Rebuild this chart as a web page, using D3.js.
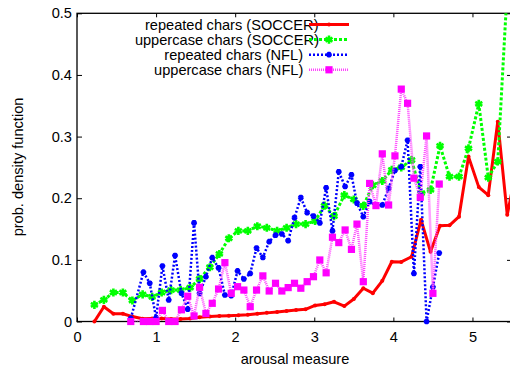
<!DOCTYPE html>
<html>
<head>
<meta charset="utf-8">
<script src="https://cdn.jsdelivr.net/npm/d3@7"></script>
<style>
  body { margin: 0; background: #fff; }
  svg text { font-family: "Liberation Sans", Arial, sans-serif; font-size: 14.6px; fill: #000; }
</style>
</head>
<body>
<script>
// SOCCER bins
const soccerX = [0.22, 0.34, 0.46, 0.58, 0.70, 0.83, 0.95, 1.07, 1.19, 1.31, 1.43, 1.55, 1.68, 1.80, 1.92,
  2.04, 2.16, 2.28, 2.40, 2.53, 2.65, 2.77, 2.89, 3.01, 3.13, 3.25, 3.38, 3.50, 3.62, 3.74, 3.86, 3.98,
  4.10, 4.23, 4.35, 4.47, 4.59, 4.71, 4.83, 4.95, 5.08, 5.20, 5.32, 5.44, 5.56];
const soccerRepeated = [0, 0.024, 0.0125, 0.0125, 0.008, 0.0045, 0.005, 0.005, 0.004, 0.004, 0.005, 0.007,
  0.008, 0.009, 0.0095, 0.010, 0.011, 0.0125, 0.014, 0.0155, 0.017, 0.0187, 0.0198, 0.026, 0.028, 0.032,
  0.025, 0.0365, 0.054, 0.046, 0.066, 0.097, 0.0966, 0.105, 0.165, 0.113, 0.1555, 0.156, 0.170, 0.2675,
  0.218, 0.205, 0.324, 0.173, 0.25];
const soccerUpper = [0.027, 0.035, 0.047, 0.047, 0.034, 0.044, 0.040, 0.047, 0.051, 0.051, 0.055, 0.069,
  0.088, 0.1096, 0.135, 0.147, 0.147, 0.1545, 0.152, 0.147, 0.152, 0.158, 0.158, 0.163, 0.188, 0.171,
  0.205, 0.198, 0.1875, 0.221, 0.228, 0.246, 0.250, 0.262, 0.208, 0.2135, 0.285, 0.235, 0.235, 0.281,
  0.353, 0.2335, 0.2595, 0.54];

// NFL bins
const nflX = [0.68, 0.84, 0.92, 1.00, 1.08, 1.16, 1.24, 1.32, 1.40, 1.48, 1.55, 1.63, 1.71, 1.79, 1.87,
  1.95, 2.03, 2.11, 2.19, 2.27, 2.35, 2.43, 2.51, 2.59, 2.67, 2.75, 2.83, 2.91, 2.99, 3.07, 3.15, 3.23,
  3.31, 3.39, 3.47, 3.54, 3.62, 3.70, 3.78, 3.86, 3.94, 4.02, 4.10, 4.18, 4.26, 4.34, 4.42, 4.50, 4.58];
const nflRepeated = [0.005, 0.080, 0.062, 0.006, 0.090, 0.035, 0.107, 0.046, 0.020, 0.160, 0.0457, 0.0727,
  0.1035, 0.087, 0.043, 0.042, 0.082, 0.069, 0.078, 0.119, 0.104, 0.1295, 0.140, 0.142, 0.131, 0.1685,
  0.201, 0.1766, 0.171, 0.160, 0.217, 0.147, 0.243, 0.219, 0.238, 0.192, 0.170, 0.1945, 0.188, 0.189,
  0.216, 0.245, 0.251, 0.294, 0.078, 0.251, 0, 0.056, 0.111];
const nflUpper = [0, 0, 0, 0, 0.018, 0, 0, 0.019, 0.041, 0.009, 0.0555, 0.013, 0.0295, 0.0527, 0.0955,
  0.0457, 0.0565, 0.051, 0.024, 0.051, 0.074, 0.0495, 0.062, 0.0495, 0.055, 0.062, 0.054, 0.0646, 0.0727,
  0.0998, 0.079, 0.1367, 0.128, 0.1485, 0.117, 0.158, 0.0646, 0.224, 0.188, 0.272, 0.189, 0.2687, 0.377,
  0.354, 0.2325, 0.2016, 0.301, 0.0457, 0.223];

const legendLabels = ["repeated chars (SOCCER)", "uppercase chars (SOCCER)", "repeated chars (NFL)", "uppercase chars (NFL)"];
const xTicks = [0, 1, 2, 3, 4, 5];
const yTicks = [0, 0.1, 0.2, 0.3, 0.4, 0.5];
const yTickLabels = ["0", "0.1", "0.2", "0.3", "0.4", "0.5"];

let width = 510;
let height = 367;
let plotLeft = 77, plotRight = 512, plotTop = 13.3, plotBottom = 321.5;

let svg = d3.select("body").append("svg").attr("width", width).attr("height", height);

let x = d3.scaleLinear().domain([0, 5.5]).range([plotLeft, plotRight]);
let y = d3.scaleLinear().domain([0, 0.5]).range([plotBottom, plotTop]);

let asterisk = d3.symbolAsterisk || d3.symbolCross;

let series = [
  { label: legendLabels[0], xs: soccerX, ys: soccerRepeated, color: "#ff0000", dash: null, lw: 3, marker: "dot", textEnd: 318.5 },
  { label: legendLabels[1], xs: soccerX, ys: soccerUpper, color: "#00ff00", dash: "3,2", lw: 3, marker: "star", textEnd: 319 },
  { label: legendLabels[2], xs: nflX, ys: nflRepeated, color: "#0000ff", dash: "2,2", lw: 2.5, marker: "blob", textEnd: 303 },
  { label: legendLabels[3], xs: nflX, ys: nflUpper, color: "#ff44ff", dash: "1,1", lw: 2.5, marker: "square", textEnd: 303.3 },
];

svg.append("defs").append("clipPath").attr("id", "plot-clip")
  .append("rect").attr("x", plotLeft).attr("y", plotTop).attr("width", plotRight - plotLeft).attr("height", plotBottom - plotTop);

// axes with inward ticks
let xAxis = d3.axisBottom(x).tickValues(xTicks).tickFormat(d3.format("d")).tickSizeInner(-4).tickSizeOuter(0).tickPadding(10);
svg.append("g").attr("transform", "translate(0," + plotBottom + ")").call(xAxis)
  .call((g) => g.select(".domain").remove())
  .call((g) => g.selectAll("text").attr("font-size", null).attr("font-family", null));

let xTop = d3.axisTop(x).tickValues(xTicks).tickFormat("").tickSizeInner(-4).tickSizeOuter(0);
svg.append("g").attr("transform", "translate(0," + plotTop + ")").call(xTop).call((g) => g.select(".domain").remove());

let yAxis = d3.axisLeft(y).tickValues(yTicks).tickFormat((d, i) => yTickLabels[i]).tickSizeInner(-5).tickSizeOuter(0).tickPadding(5);
svg.append("g").attr("transform", "translate(" + plotLeft + ",0)").call(yAxis)
  .call((g) => g.select(".domain").remove())
  .call((g) => g.selectAll("text").attr("font-size", null).attr("font-family", null));

let yRight = d3.axisRight(y).tickValues(yTicks).tickFormat("").tickSizeInner(-5).tickSizeOuter(0);
svg.append("g").attr("transform", "translate(" + plotRight + ",0)").call(yRight).call((g) => g.select(".domain").remove());

svg.selectAll(".tick line").attr("stroke", "#000").attr("stroke-width", 1);

// border
svg.append("rect").attr("x", plotLeft).attr("y", plotTop).attr("width", plotRight - plotLeft).attr("height", plotBottom - plotTop)
  .attr("fill", "none").attr("stroke", "#000").attr("stroke-width", 1.3);

svg.append("text").attr("x", 295).attr("y", 364).attr("text-anchor", "middle").text("arousal measure");
svg.append("text").attr("transform", "translate(23,167) rotate(-90)").attr("text-anchor", "middle").text("prob. density function");

function drawMarker(g, s, px, py) {
  if (s.marker === "dot") {
    g.append("circle").attr("cx", px).attr("cy", py).attr("r", 2).attr("fill", s.color);
  } else if (s.marker === "star") {
    g.append("path").attr("d", d3.symbol(asterisk, 46)()).attr("transform", "translate(" + px + "," + py + ")")
      .attr("fill", "none").attr("stroke", s.color).attr("stroke-width", 2.6);
  } else if (s.marker === "blob") {
    g.append("path").attr("d", d3.symbol(asterisk, 22)()).attr("transform", "translate(" + px + "," + py + ")")
      .attr("fill", "none").attr("stroke", s.color).attr("stroke-width", 2.6);
  } else {
    g.append("rect").attr("x", px - 3.6).attr("y", py - 3.6).attr("width", 7.2).attr("height", 7.2).attr("fill", "#ff00ff");
  }
}

let line = d3.line();

series.forEach((s) => {
  let pts = s.ys.map((v, i) => [x(s.xs[i]), y(v)]);
  svg.append("path").attr("d", line(pts)).attr("clip-path", "url(#plot-clip)")
    .attr("fill", "none").attr("stroke", s.color).attr("stroke-width", s.lw)
    .attr("stroke-dasharray", s.dash).attr("stroke-linejoin", "round");
  let mg = svg.append("g");
  s.ys.forEach((v, i) => {
    if (s.xs[i] <= 5.5 && v <= 0.5) drawMarker(mg, s, x(s.xs[i]), y(v));
  });
});

// legend
let legend = svg.append("g");
series.forEach((s, i) => {
  let ly = 24.5 + i * 15.1;
  legend.append("text").attr("x", s.textEnd).attr("y", ly).attr("dy", "0.35em").attr("text-anchor", "end").text(s.label);
  legend.append("line").attr("x1", 309).attr("x2", 349).attr("y1", ly).attr("y2", ly)
    .attr("stroke", s.color).attr("stroke-width", s.lw).attr("stroke-dasharray", s.dash);
  drawMarker(legend, s, 329, ly);
});
</script>
</body>
</html>
